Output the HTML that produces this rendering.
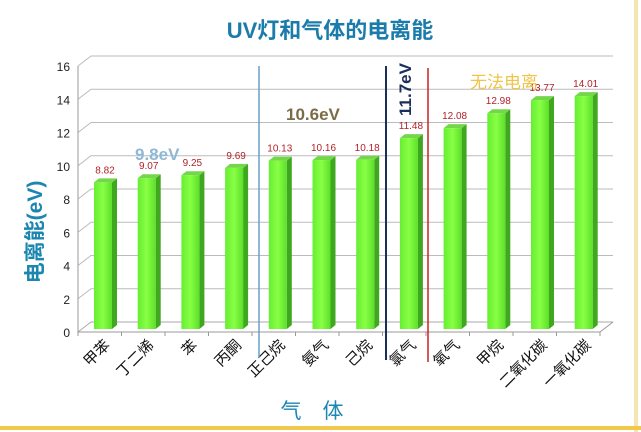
<!DOCTYPE html>
<html><head><meta charset="utf-8"><style>
html,body{margin:0;padding:0;background:#fff;}
svg{display:block;font-family:"Liberation Sans","Noto Sans CJK SC",sans-serif;}
</style></head><body>
<svg width="641" height="432" viewBox="0 0 641 432">
<defs>
<linearGradient id="gf" x1="0" x2="1"><stop offset="0" stop-color="#66ee33"/><stop offset="0.5" stop-color="#88ff44"/><stop offset="1" stop-color="#5ce02a"/></linearGradient>
</defs>
<rect x="0" y="0" width="641" height="432" fill="#fff"/>
<rect x="634" y="0" width="4" height="432" fill="#f4e6b0"/>
<rect x="0" y="426" width="641" height="4" fill="#f2c84a"/>
<text x="330" y="38" text-anchor="middle" font-size="22" font-weight="bold" fill="#1b7cac">UV灯和气体的电离能</text>
<text transform="translate(42,232) rotate(-90)" text-anchor="middle" font-size="21" font-weight="bold" fill="#1b86b0">电离能(eV)</text>
<text x="312" y="418" text-anchor="middle" font-size="21" fill="#1b86b0">气　体</text>
<g id="grid"></g><g id="bars"></g><g id="xlabels"></g>
<line x1="259" y1="66" x2="259" y2="358" stroke="#6aa0c8" stroke-width="1.5"/>
<line x1="386" y1="66" x2="386" y2="360" stroke="#1a2e5a" stroke-width="2"/>
<line x1="428" y1="68" x2="428" y2="362" stroke="#cc2222" stroke-width="1.5"/>
<text x="135" y="160" font-size="17" font-weight="bold" fill="#8fb8d4">9.8eV</text>
<text x="286" y="120" font-size="17" font-weight="bold" fill="#7a6c44">10.6eV</text>
<text transform="translate(411,116) rotate(-90)" font-size="17" font-weight="bold" fill="#1a2e5a">11.7eV</text>
<text x="470" y="88" font-size="17" fill="#f0c448">无法电离</text>
</svg>
<script>
const categories=["甲苯","丁二烯","苯","丙酮","正己烷","氨气","己烷","氯气","氧气","甲烷","二氧化碳","一氧化碳"];
const values=[8.82,9.07,9.25,9.69,10.13,10.16,10.18,11.48,12.08,12.98,13.77,14.01];
const valueLabels=["8.82","9.07","9.25","9.69","10.13","10.16","10.18","11.48","12.08","12.98","13.77","14.01"];
const yTicks=[0,2,4,6,8,10,12,14,16];
const NS="http://www.w3.org/2000/svg";
const y0=332,yTop=66,yMax=16,x0=78,x1=600,dx=13,dy=10;
function yS(v){return y0-(v/yMax)*(y0-yTop);}
function xS(i){return 103+i*43.7;}
function mk(t,a,p){const e=document.createElementNS(NS,t);for(const k in a)e.setAttribute(k,a[k]);p.appendChild(e);return e;}
const grid=document.getElementById('grid');
yTicks.forEach(v=>{const y=yS(v);
 const g=mk('polyline',{points:`${x0},${y} ${x0+dx},${y-dy} ${x1+dx},${y-dy}`,fill:'none',stroke:v===0?'#aaa':'#bbb','stroke-width':1},grid);
 
 const t=mk('text',{x:x0-8,y:y+5,'text-anchor':'end','font-size':12,fill:'#222'},grid);t.textContent=v;
 });
const ax=mk('line',{x1:x0,y1:yS(16),x2:x0,y2:y0,stroke:'#999'},grid);

const fl=mk('polyline',{points:`${x0},${y0} ${x1},${y0} ${x1+dx},${y0-dy}`,fill:'none',stroke:'#999'},grid);

for(let i=0;i<=12;i++){const x=x0+i*(x1-x0)/12;const tk=mk('line',{x1:x,y1:y0,x2:x,y2:y0+4,stroke:'#999'},grid);
 }
const bars=document.getElementById('bars'),xl=document.getElementById('xlabels');
values.forEach((v,i)=>{const cx=xS(i),w=18,l=cx-w/2,base=y0-3,top=yS(v)-3,s=5,sd=4;
 const g=mk('g',{},bars);
 mk('polygon',{points:`${l+w},${top} ${l+w+s},${top-sd} ${l+w+s},${base-sd} ${l+w},${base}`,fill:'#3fa81e'},g);
 mk('polygon',{points:`${l},${top} ${l+s},${top-sd} ${l+w+s},${top-sd} ${l+w},${top}`,fill:'#74d64a'},g);
 mk('rect',{x:l,y:top,width:w,height:base-top,fill:'url(#gf)'},g);
 const t=mk('text',{x:cx+2,y:top-9,'text-anchor':'middle','font-size':10,fill:'#b0222a'},bars);t.textContent=valueLabels[i];
 
 const c=mk('text',{transform:`translate(${cx+8},${y0+14}) rotate(-45)`,'text-anchor':'end','font-size':15,fill:'#111'},xl);c.textContent=categories[i];
 });
</script>
</body></html>
